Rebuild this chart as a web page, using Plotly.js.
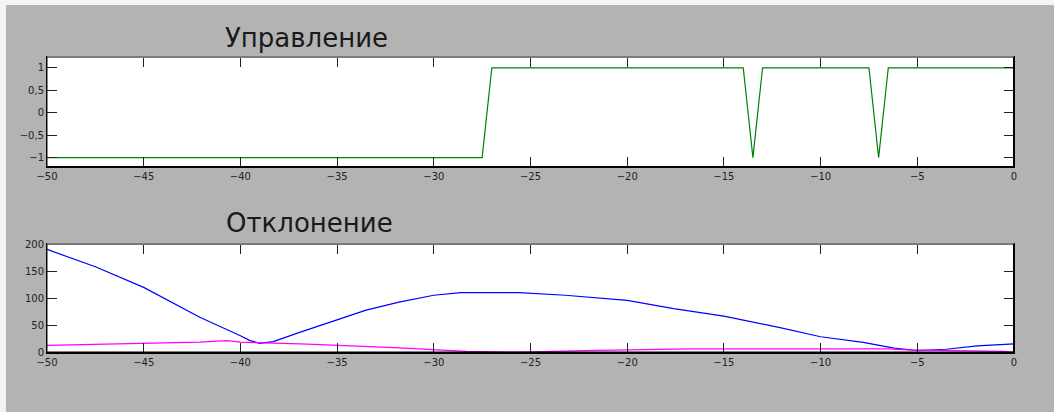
<!DOCTYPE html>
<html>
<head>
<meta charset="utf-8">
<script src="https://cdn.plot.ly/plotly-3.0.1.min.js"></script>
<style>html,body{margin:0;padding:0;background:#fff;}#chart{width:1054px;height:412px;}</style>
</head>
<body>
<div id="chart"></div>
<script>
// Top panel: control signal
const ctrlX = [-50, -27.5, -27, -14, -13.5, -13, -7.5, -7, -6.5, 0];
const ctrlY = [-1, -1, 1, 1, -1, 1, 1, -1, 1, 1];

// Bottom panel: deviation (blue)
const devBlueX = [-50, -47.5, -45, -42.1, -40, -39.5, -39, -38.3, -36.9, -35, -33.5, -31.8, -30, -28.6, -25.6, -23.2, -21.6, -20, -17.6, -15, -12.1, -10, -7.8, -6.2, -5, -3.5, -1.9, 0];
const devBlueY = [190, 158, 120, 65, 31, 22, 17, 20, 37.6, 60.5, 78, 93, 105.5, 110.5, 110.5, 105.5, 100.6, 96, 81, 67, 46, 29, 18.5, 8, 3.7, 6, 12.3, 16];

// Bottom panel: deviation (magenta)
const devMagX = [-50, -47.5, -45, -42.1, -40.7, -40, -36.9, -35, -33.3, -31.8, -30, -28.3, -25.5, -21.6, -16.7, -10, -6.5, -5.5, -3, -0.6, 0];
const devMagY = [13, 15, 16, 19, 22, 19, 16, 14, 11, 8.6, 5.5, 2, 0.6, 4, 6.7, 6.8, 6.5, 5, 3.7, 2, 0.6];

const xTicks = [-50, -45, -40, -35, -30, -25, -20, -15, -10, -5, 0];
const titles = ['Управление', 'Отклонение'];

const tickFont = {family: 'DejaVu Sans', size: 10, color: '#222'};

function xax(anchor) {
  return {
    anchor: anchor, range: [-50, 0], tickvals: xTicks, ticks: 'inside', ticklen: 10,
    tickcolor: '#222', tickwidth: 1, showline: true, linecolor: '#000', linewidth: 1,
    mirror: 'ticks', showgrid: false, zeroline: false, tickfont: tickFont, fixedrange: true
  };
}
function yax(anchor, range, dtick, domain) {
  return {
    anchor: anchor, domain: domain, range: range, dtick: dtick, ticks: 'inside', ticklen: 10,
    tickcolor: '#222', tickwidth: 1, showline: true, linecolor: '#000', linewidth: 1,
    mirror: 'ticks', showgrid: false, zeroline: false, tickfont: tickFont, fixedrange: true
  };
}

const traces = [
  {x: ctrlX, y: ctrlY, xaxis: 'x', yaxis: 'y', mode: 'lines', line: {color: '#008000', width: 1.2}},
  {x: devBlueX, y: devBlueY, xaxis: 'x2', yaxis: 'y2', mode: 'lines', line: {color: '#0000ff', width: 1.2}},
  {x: devMagX, y: devMagY, xaxis: 'x2', yaxis: 'y2', mode: 'lines', line: {color: '#ff00ff', width: 1.2}}
];

function frame(xr, yr) {
  return [
    {type: 'line', xref: xr + ' domain', yref: yr + ' domain', x0: 0, x1: 1, y0: 1, y1: 1, line: {color: '#7a7a7a', width: 2}},
    {type: 'line', xref: xr + ' domain', yref: yr + ' domain', x0: 0, x1: 1, y0: 0, y1: 0, line: {color: '#000', width: 2}},
    {type: 'line', xref: xr + ' domain', yref: yr + ' domain', x0: 1, x1: 1, y0: 0, y1: 1, line: {color: '#000', width: 2}},
    {type: 'line', xref: xr + ' domain', yref: yr + ' domain', x0: 0, x1: 0, y0: 0, y1: 1, line: {color: '#111', width: 1}}
  ];
}

const W = 1054, H = 412, L = 47, R = 40;
const pw = W - L - R;

const layout = {
  width: W, height: H,
  margin: {l: L, r: R, t: 0, b: 0},
  paper_bgcolor: '#b3b3b3', plot_bgcolor: '#ffffff',
  showlegend: false,
  separators: ', ',
  xaxis: xax('y'),
  yaxis: yax('x', [-1.21, 1.24], 0.5, [245 / H, 355 / H]),
  xaxis2: xax('y2'),
  yaxis2: yax('x2', [0, 200], 50, [59.5 / H, 168 / H]),
  shapes: [
    {type: 'rect', xref: 'paper', yref: 'paper', x0: -L / pw, x1: (W - L) / pw, y0: (H - 5) / H, y1: 1.01, line: {width: 0}, fillcolor: '#f4f4f4', layer: 'above'},
    {type: 'rect', xref: 'paper', yref: 'paper', x0: -L / pw, x1: (6 - L) / pw, y0: -0.01, y1: 1.01, line: {width: 0}, fillcolor: '#f4f4f4', layer: 'above'}
  ].concat(frame('x', 'y')).concat(frame('x2', 'y2')),
  annotations: [
    {text: titles[0], xref: 'paper', yref: 'paper', x: (306.5 - L) / pw, y: (H - 37.5) / H, xanchor: 'center', yanchor: 'middle', showarrow: false, font: {family: 'DejaVu Sans', size: 26, color: '#1a1a1a'}},
    {text: titles[1], xref: 'paper', yref: 'paper', x: (309 - L) / pw, y: (H - 223) / H, xanchor: 'center', yanchor: 'middle', showarrow: false, font: {family: 'DejaVu Sans', size: 26, color: '#1a1a1a'}}
  ]
};

Plotly.newPlot('chart', traces, layout, {displayModeBar: false, staticPlot: true});
</script>
</body>
</html>
